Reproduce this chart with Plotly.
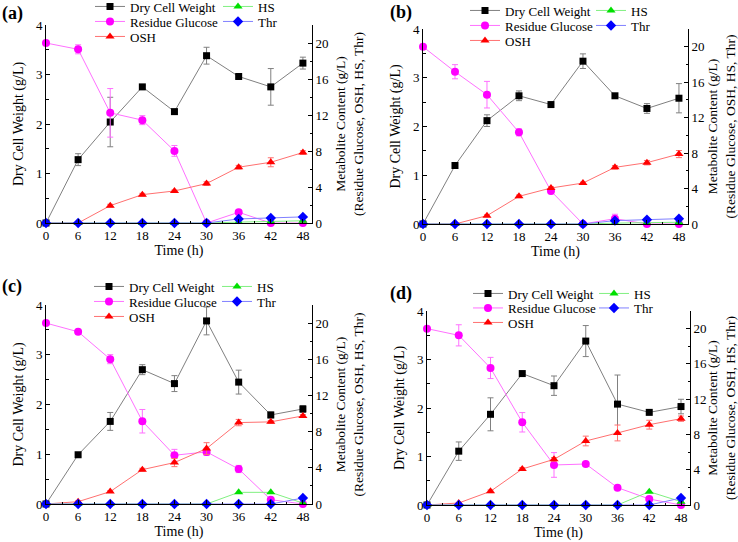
import plotly.graph_objects as go

W, H = 738, 542
time_h = [0, 6, 12, 18, 24, 30, 36, 42, 48]
series_names = ["Dry Cell Weight", "Residue Glucose", "OSH", "HS", "Thr"]
panel_labels = ["(a)", "(b)", "(c)", "(d)"]
x_ticks = [0, 6, 12, 18, 24, 30, 36, 42, 48]

# Panel (a)
dcw_a = [0, 1.28, 2.04, 2.75, 2.25, 3.38, 2.96, 2.75, 3.23]
dcw_a_err = [0, 0.12, 0.50, 0.03, 0.03, 0.17, 0.03, 0.37, 0.12]
glc_a = [20.0, 19.3, 12.24, 11.43, 8.01, 0, 1.19, 0, 0]
glc_a_err = [0, 0.5, 2.7, 0.5, 0.6, 0, 0.2, 0, 0]
osh_a = [0, 0, 1.93, 3.15, 3.56, 4.38, 6.2, 6.75, 7.83]
osh_a_err = [0, 0, 0.15, 0.15, 0.1, 0.2, 0.2, 0.5, 0.2]
hs_a = [0, 0, 0, 0, 0, 0, 0.1, 0.15, 0.25]
thr_a = [0, 0, 0, 0, 0, 0, 0.45, 0.55, 0.68]

# Panel (b)
dcw_b = [0, 1.20, 2.12, 2.63, 2.45, 3.34, 2.63, 2.37, 2.58]
dcw_b_err = [0, 0.03, 0.12, 0.10, 0.03, 0.15, 0.03, 0.10, 0.30]
glc_b = [20.0, 17.18, 14.59, 10.34, 3.72, 0, 0.6, 0, 0]
glc_b_err = [0, 0.8, 1.5, 0.4, 0.3, 0, 0.5, 0, 0]
osh_b = [0, 0, 0.94, 3.12, 4.06, 4.62, 6.39, 6.92, 7.89]
osh_b_err = [0, 0, 0.1, 0.15, 0.15, 0.1, 0.2, 0.25, 0.4]
hs_b = [0, 0, 0, 0, 0, 0, 0.1, 0.15, 0.2]
thr_b = [0, 0, 0, 0, 0, 0, 0.38, 0.49, 0.6]

# Panel (c)
dcw_c = [0, 0.99, 1.66, 2.70, 2.42, 3.68, 2.45, 1.79, 1.91]
dcw_c_err = [0, 0.04, 0.18, 0.10, 0.16, 0.28, 0.24, 0.06, 0.07]
glc_c = [20.0, 19.04, 16.01, 9.15, 5.39, 5.76, 3.87, 0.48, 0]
glc_c_err = [0, 0.2, 0.5, 1.3, 0.65, 0.4, 0.4, 0.1, 0]
osh_c = [0, 0.26, 1.37, 3.8, 4.58, 6.13, 9.0, 9.08, 9.74]
osh_c_err = [0, 0.1, 0.1, 0.15, 0.45, 0.65, 0.35, 0.15, 0.15]
hs_c = [0, 0, 0, 0, 0, 0, 1.29, 1.29, 0.1]
thr_c = [0, 0, 0, 0, 0, 0, 0, 0, 0.66]

# Panel (d)
dcw_d = [0, 1.11, 1.87, 2.71, 2.46, 3.38, 2.08, 1.91, 2.03]
dcw_d_err = [0, 0.19, 0.34, 0.03, 0.2, 0.32, 0.6, 0.03, 0.15]
glc_d = [20.0, 19.24, 15.54, 9.38, 4.54, 4.65, 1.97, 0.68, 0]
glc_d_err = [0, 1.2, 1.2, 1.1, 1.4, 0.2, 0.2, 0.1, 0]
osh_d = [0, 0.23, 1.55, 4.08, 5.18, 7.26, 8.17, 9.11, 9.79]
osh_d_err = [0, 0.05, 0.15, 0.15, 0.2, 0.55, 0.9, 0.5, 0.3]
hs_d = [0, 0, 0, 0, 0, 0, 0, 1.51, 0.38]
thr_d = [0, 0, 0, 0, 0, 0, 0, 0, 0.79]

panels = [
    (dcw_a, dcw_a_err, glc_a, glc_a_err, osh_a, osh_a_err, hs_a, thr_a),
    (dcw_b, dcw_b_err, glc_b, glc_b_err, osh_b, osh_b_err, hs_b, thr_b),
    (dcw_c, dcw_c_err, glc_c, glc_c_err, osh_c, osh_c_err, hs_c, thr_c),
    (dcw_d, dcw_d_err, glc_d, glc_d_err, osh_d, osh_d_err, hs_d, thr_d),
]

FONT = "Liberation Serif"

# plot-area pixel boxes: left, right, top, bottom
boxes = [
    (46, 312, 25, 223),
    (423, 688, 29, 224),
    (46, 312, 305, 504),
    (427, 690, 311, 505),
]
# legend text start x (col1, col2), first-row centre y, row pitch
legend_pos = [
    (130, 258, 6, 15),
    (505, 631, 10, 15),
    (129, 257, 286, 15),
    (508, 634, 293, 14.5),
]
# (column, row) of each legend entry
legend_slots = [(0, 0), (0, 1), (0, 2), (1, 0), (1, 1)]
label_pos = [(12, 13), (401, 12), (12, 286), (401, 293)]

styles = {
    "Dry Cell Weight": dict(mc="#000000", lc="#808080", sym="square", ms=7),
    "Residue Glucose": dict(mc="#FF00FF", lc="#FF70FF", sym="circle", ms=8),
    "OSH": dict(mc="#FF0000", lc="#FF7070", sym="triangle-up", ms=8),
    "HS": dict(mc="#00E000", lc="#80F080", sym="triangle-up", ms=8),
    "Thr": dict(mc="#0000FF", lc="#8080FF", sym="diamond", ms=8),
}

fig = go.Figure()
layout = dict(
    width=W, height=H, margin=dict(l=0, r=0, t=0, b=0, autoexpand=False),
    template="none", paper_bgcolor="white", plot_bgcolor="white",
    font=dict(family=FONT, size=13, color="black"),
    showlegend=True,
)
annotations = []

axis_common = dict(
    showline=True, linecolor="black", linewidth=1, mirror=False,
    ticks="inside", ticklen=4, tickwidth=1, tickcolor="black",
    showgrid=False, zeroline=False, automargin=False,
    tickfont=dict(family=FONT, size=13, color="black"),
)

for i, (dcw, dcw_err, glc, glc_err, osh, osh_err, hs, thr) in enumerate(panels):
    l, r, t, b = boxes[i]
    xd = [l / W, r / W]
    yd = [1 - b / H, 1 - t / H]
    xn = "x" if i == 0 else f"x{i+1}"
    yl_n = 2 * i + 1
    yr_n = 2 * i + 2
    yl = "y" if yl_n == 1 else f"y{yl_n}"
    yr = f"y{yr_n}"
    xkey = "xaxis" if i == 0 else f"xaxis{i+1}"
    ylkey = "yaxis" if yl_n == 1 else f"yaxis{yl_n}"
    yrkey = f"yaxis{yr_n}"

    layout[xkey] = dict(
        axis_common, domain=xd, anchor=yl, range=[0, 49.7],
        tickvals=x_ticks, minor=dict(dtick=3, tick0=0, ticks="inside", ticklen=2.5, tickcolor="black"),
        title=dict(text="Time (h)", font=dict(family=FONT, size=14), standoff=3),
    )
    layout[ylkey] = dict(
        axis_common, domain=yd, anchor=xn, range=[0, 4], dtick=1, tick0=0,
        minor=dict(dtick=0.5, tick0=0, ticks="inside", ticklen=2.5, tickcolor="black"),
        title=dict(text="Dry Cell Weight (g/L)", font=dict(family=FONT, size=14), standoff=9),
    )
    layout[yrkey] = dict(
        axis_common, domain=yd, anchor=xn, overlaying=yl, side="right",
        range=[0, 22], dtick=4, tick0=0,
        minor=dict(dtick=2, tick0=0, ticks="inside", ticklen=2.5, tickcolor="black"),
        title=dict(text="Metabolite Content (g/L)<br>(Residue Glucose, OSH, HS, Thr)",
                   font=dict(family=FONT, size=13.5), standoff=7),
    )

    c1x, c2x, ry, pitch = legend_pos[i]
    data = [
        ("Dry Cell Weight", dcw, dcw_err, yl),
        ("Residue Glucose", glc, glc_err, yr),
        ("OSH", osh, osh_err, yr),
        ("HS", hs, None, yr),
        ("Thr", thr, None, yr),
    ]
    for j, (name, yv, err, yax) in enumerate(data):
        k = i * 5 + j + 1
        leg = "legend" if k == 1 else f"legend{k}"
        col, row = legend_slots[j]
        tx = c1x if col == 0 else c2x
        cy = ry + row * pitch
        layout[leg] = dict(
            x=(tx - 40) / W, y=1 - (cy - 14.5) / H, xanchor="left", yanchor="top",
            bgcolor="rgba(0,0,0,0)", borderwidth=0,
            font=dict(family=FONT, size=13, color="black"),
            tracegroupgap=0, itemwidth=30,
        )
        s = styles[name]
        tr = dict(
            x=time_h, y=yv, name=name, mode="lines+markers",
            xaxis=xn, yaxis=yax, legend=leg, cliponaxis=False,
            line=dict(color=s["lc"], width=1),
            marker=dict(color=s["mc"], symbol=s["sym"], size=s["ms"], line=dict(width=0)),
        )
        if err is not None:
            tr["error_y"] = dict(type="data", array=err, visible=True,
                                 color=s["lc"], thickness=1, width=3)
        fig.add_trace(go.Scatter(**tr))

    lx, ly = label_pos[i]
    annotations.append(dict(
        text=f"<b>{panel_labels[i]}</b>", x=lx / W, y=1 - ly / H,
        xref="paper", yref="paper", xanchor="center", yanchor="middle",
        showarrow=False, font=dict(family=FONT, size=18, color="black"),
    ))

layout["annotations"] = annotations
fig.update_layout(**layout)
fig.write_html("out.html", config={"displayModeBar": False},
               post_script="document.body.style.margin='0';document.body.style.overflow='hidden';")
